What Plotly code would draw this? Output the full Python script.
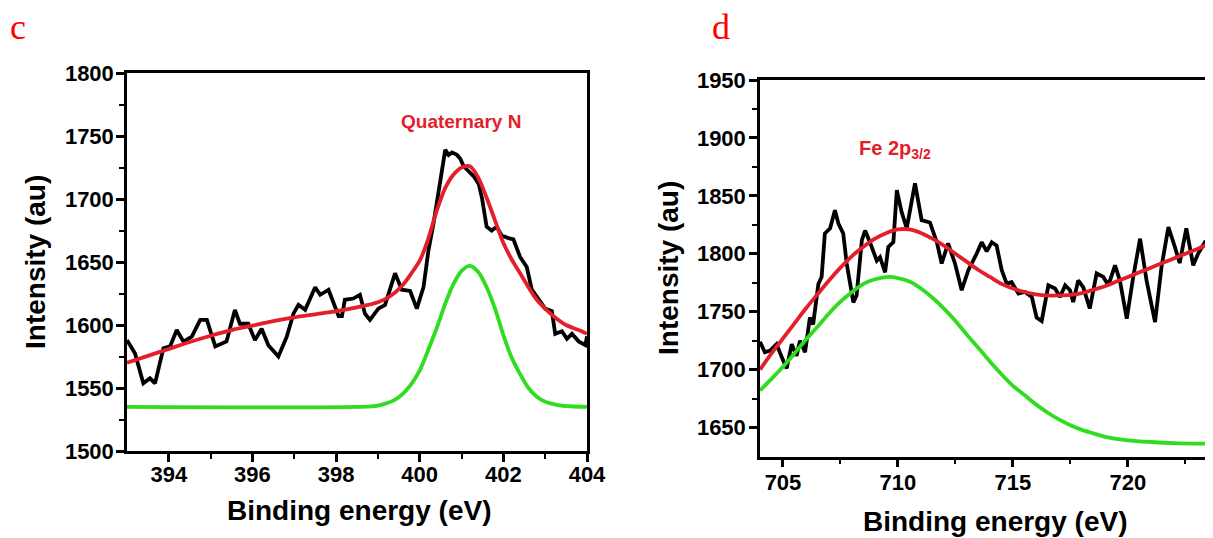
import plotly.graph_objects as go

# The page body keeps an 8 px margin, so the figure is sized to fill the rest of the window.
OFF = 8
W, H = 1213 - OFF, 538 - OFF

# ---------------- Panel c (N 1s) ----------------
c_raw_x = [393.0, 393.19, 393.39, 393.55, 393.67, 393.87, 394.03, 394.19, 394.35, 394.55,
           394.75, 394.91, 395.11, 395.38, 395.58, 395.70, 395.90, 396.06, 396.22, 396.38,
           396.62, 396.82, 396.98, 397.1, 397.26, 397.5, 397.62, 397.82, 398.06, 398.14,
           398.21, 398.41, 398.57, 398.69, 398.81, 399.01, 399.17, 399.29, 399.41, 399.57,
           399.77, 399.93, 400.09, 400.21, 400.33, 400.61, 400.69, 400.77, 400.89, 400.97,
           401.05, 401.17, 401.29, 401.41, 401.49, 401.6, 401.72, 401.84, 401.96, 402.12,
           402.24, 402.4, 402.56, 402.68, 402.84, 403.0, 403.16, 403.24, 403.4, 403.52,
           403.64, 403.8, 403.96, 404.0]
c_raw_y = [1588, 1577.5, 1553.7, 1557.7, 1553.7, 1581.5, 1583, 1596, 1586.8, 1590.7,
           1604, 1604, 1583, 1587, 1612, 1601, 1601, 1588, 1597, 1584,
           1575, 1590.7, 1609, 1616, 1612, 1630, 1624, 1628, 1607, 1607,
           1620, 1621, 1624, 1609, 1604, 1613, 1616, 1628, 1641, 1628,
           1627, 1613, 1630, 1659.5, 1680.7, 1739, 1735, 1737, 1735, 1732,
           1726, 1722, 1718, 1712, 1700.5, 1678, 1675, 1678, 1671, 1669,
           1668, 1654, 1646, 1628, 1620, 1613, 1611, 1593, 1595, 1589,
           1593, 1587, 1584, 1591]

c_fit_x = [393.0, 393.5, 394.0, 394.5, 395.0, 395.5, 396.0, 396.5, 397.0, 397.5, 398.0,
           398.5, 399.0, 399.3, 399.6, 399.8, 400.0, 400.2, 400.4, 400.6, 400.8, 401.0,
           401.2, 401.4, 401.6, 401.8, 402.0, 402.2, 402.4, 402.6, 402.8, 403.0, 403.2,
           403.5, 403.8, 404.0]
c_fit_y = [1570, 1575.5, 1581, 1586.5, 1591.5, 1596, 1599.5, 1603, 1606, 1608.5, 1611,
           1614, 1618, 1623, 1632, 1641, 1651, 1668, 1690, 1708, 1719, 1725,
           1726, 1717, 1701, 1683, 1665, 1652, 1641, 1630, 1620, 1613, 1607,
           1600, 1596, 1593]

c_peak_x = [393.0, 398.5, 399.0, 399.4, 399.7, 400.0, 400.2, 400.4, 400.6, 400.8, 401.0,
            401.2, 401.4, 401.6, 401.8, 402.0, 402.2, 402.4, 402.6, 402.8, 403.0, 403.3,
            403.6, 404.0]
c_peak_y = [1535, 1535, 1536, 1540.5, 1549, 1564, 1580, 1597, 1616, 1632, 1643,
            1647, 1642, 1630, 1613, 1592, 1574, 1561, 1550, 1543, 1539, 1536.5,
            1535.5, 1535]

# ---------------- Panel d (Fe 2p) ----------------
d_raw_x = [704.0, 704.21, 704.44, 704.72, 704.94, 705.16, 705.38, 705.59, 705.74, 705.96,
           706.17, 706.31, 706.54, 706.68, 706.82, 707.05, 707.26, 707.41, 707.62, 707.77,
           708.06, 708.20, 708.43, 708.57, 708.78, 709.08, 709.22, 709.44, 709.58, 709.80,
           709.95, 710.16, 710.38, 710.74, 711.03, 711.39, 711.69, 711.90, 712.18, 712.48,
           712.77, 713.06, 713.42, 713.64, 713.86, 714.08, 714.29, 714.51, 714.73, 714.94,
           715.24, 715.52, 715.82, 716.03, 716.25, 716.54, 716.83, 717.05, 717.27, 717.48,
           717.62, 717.84, 718.06, 718.34, 718.64, 718.93, 719.15, 719.44, 719.65, 719.95,
           720.23, 720.53, 720.81, 721.18, 721.46, 721.76, 722.04, 722.25, 722.54, 722.84,
           723.05, 723.35, 723.63]
d_raw_y = [1724, 1715, 1716.5, 1722, 1711, 1701, 1722, 1712, 1725, 1715,
           1745, 1739, 1774, 1780, 1817.5, 1822, 1837.6, 1826, 1817.5, 1791.6,
           1758, 1764, 1811.7, 1820, 1810, 1794, 1797, 1784, 1806, 1810,
           1855, 1836, 1822, 1860.7, 1829, 1827, 1810, 1791.6, 1809, 1791.6,
           1768.5, 1785.8, 1800, 1810, 1802, 1810, 1807, 1786, 1774, 1775.5,
           1765.6, 1767, 1762.7, 1745, 1742, 1772.8, 1770, 1762.7, 1772.8, 1768.5,
           1758.4, 1777, 1771, 1752.7, 1783, 1780, 1772.8, 1790, 1777, 1744,
           1780, 1813, 1777, 1741, 1788.6, 1823, 1806, 1792, 1822, 1790,
           1800, 1810, 1808]

d_fit_x = [704.0, 704.5, 705.0, 705.5, 706.0, 706.5, 707.0, 707.5, 708.0, 708.5, 709.0,
           709.5, 710.0, 710.5, 711.0, 711.5, 712.0, 712.5, 713.0, 713.5, 714.0, 714.5,
           715.0, 715.5, 716.0, 716.5, 717.0, 717.5, 718.0, 718.5, 719.0, 719.5, 720.0,
           720.5, 721.0, 721.5, 722.0, 722.5, 723.0, 723.7]
d_fit_y = [1700, 1714, 1727, 1740, 1753, 1765, 1777, 1788, 1798, 1806, 1813,
           1818, 1821, 1821, 1818, 1813, 1807, 1800, 1793, 1786, 1780, 1774,
           1770, 1767, 1765, 1764, 1764, 1764.5, 1766, 1769, 1772, 1776, 1780,
           1784, 1788, 1792, 1796, 1800, 1804, 1810]

d_peak_x = [704.0, 704.5, 705.0, 705.5, 706.0, 706.5, 707.0, 707.5, 708.0, 708.5, 709.0,
            709.6, 710.0, 710.5, 711.0, 711.5, 712.0, 712.5, 713.0, 713.5, 714.0, 714.5,
            715.0, 715.5, 716.0, 716.5, 717.0, 717.5, 718.0, 718.5, 719.0, 720.0, 721.0,
            722.0, 723.7]
d_peak_y = [1682, 1692, 1702.5, 1714, 1726, 1737, 1748.5, 1758.6, 1767, 1774, 1778,
            1780, 1779, 1776, 1770, 1762, 1752.7, 1742, 1730, 1718.7, 1707, 1696,
            1686, 1678, 1670, 1663, 1657, 1652, 1648, 1645, 1642, 1639, 1637.5,
            1636.5, 1636]

c_xticks = [394, 396, 398, 400, 402, 404]
c_yticks = [1500, 1550, 1600, 1650, 1700, 1750, 1800]
d_xticks = [705, 710, 715, 720]
d_yticks = [1650, 1700, 1750, 1800, 1850, 1900, 1950]

BLACK = "#000000"
RED = "#e3202a"
GREEN = "#2fdc1e"
LW = 3.8


def px(x):
    """screen pixel x -> paper fraction"""
    return (x - OFF) / W


def py(y):
    """screen pixel y -> paper fraction"""
    return 1 - (y - OFF) / H


fig = go.Figure()
fig.add_trace(go.Scatter(x=c_raw_x, y=c_raw_y, mode="lines", line=dict(color=BLACK, width=LW),
                         xaxis="x", yaxis="y", showlegend=False))
fig.add_trace(go.Scatter(x=c_peak_x, y=c_peak_y, mode="lines",
                         line=dict(color=GREEN, width=LW, shape="spline", smoothing=0.8),
                         xaxis="x", yaxis="y", showlegend=False))
fig.add_trace(go.Scatter(x=c_fit_x, y=c_fit_y, mode="lines",
                         line=dict(color=RED, width=LW, shape="spline", smoothing=0.8),
                         xaxis="x", yaxis="y", showlegend=False))

fig.add_trace(go.Scatter(x=d_raw_x, y=d_raw_y, mode="lines", line=dict(color=BLACK, width=LW),
                         xaxis="x2", yaxis="y2", showlegend=False))
fig.add_trace(go.Scatter(x=d_peak_x, y=d_peak_y, mode="lines",
                         line=dict(color=GREEN, width=LW, shape="spline", smoothing=0.8),
                         xaxis="x2", yaxis="y2", showlegend=False))
fig.add_trace(go.Scatter(x=d_fit_x, y=d_fit_y, mode="lines",
                         line=dict(color=RED, width=LW, shape="spline", smoothing=0.8),
                         xaxis="x2", yaxis="y2", showlegend=False))

TICKFONT = dict(family="Liberation Sans, Arial, sans-serif", size=22, color="black", weight="bold")


def axis_common(**kw):
    d = dict(showline=True, linecolor="black", linewidth=2.5, ticks="outside", ticklen=8,
             tickwidth=2.5, tickcolor="black", showgrid=False, zeroline=False,
             tickfont=TICKFONT, fixedrange=True, automargin=False)
    d.update(kw)
    return d


fig.update_layout(
    template="none",
    width=W, height=H, margin=dict(l=0, r=0, t=0, b=0, pad=0),
    paper_bgcolor="white", plot_bgcolor="white",
    xaxis=axis_common(domain=[px(127), px(587)], range=[393, 404], tickmode="array",
                      tickvals=c_xticks, ticktext=[str(v) for v in c_xticks], anchor="y",
                      mirror=True, ticklabelstandoff=-6,
                      minor=dict(ticks="outside", ticklen=5, tickwidth=2, tickcolor="black",
                                 tickvals=[395, 397, 399, 401, 403])),
    yaxis=axis_common(domain=[py(451), py(73)], range=[1500, 1800], tickmode="array",
                      tickvals=c_yticks, ticktext=[str(v) for v in c_yticks], anchor="x",
                      mirror=True, ticklabelstandoff=-2,
                      minor=dict(ticks="outside", ticklen=5, tickwidth=2, tickcolor="black",
                                 tickvals=[1525, 1575, 1625, 1675, 1725, 1775])),
    xaxis2=axis_common(domain=[px(760), 1.0], range=[704, 723.7], tickmode="array",
                       tickvals=d_xticks, ticktext=[str(v) for v in d_xticks], anchor="y2",
                       mirror=True, ticklabelstandoff=-4,
                       minor=dict(ticks="outside", ticklen=5, tickwidth=2, tickcolor="black",
                                  tickvals=[707.5, 712.5, 717.5, 722.5])),
    yaxis2=axis_common(domain=[py(456.5), py(80)], range=[1625, 1950], tickmode="array",
                       tickvals=d_yticks, ticktext=[str(v) for v in d_yticks], anchor="x2",
                       mirror=False, ticklabelstandoff=-1,
                       minor=dict(ticks="outside", ticklen=5, tickwidth=2, tickcolor="black",
                                  tickvals=[1675, 1725, 1775, 1825, 1875, 1925])),
)

TITLEFONT = dict(family="Liberation Sans, Arial, sans-serif", size=28, color="black", weight="bold")
LABELFONT = dict(family="Liberation Sans, Arial, sans-serif", size=19, color=RED, weight="bold")
LETTERFONT = dict(family="Liberation Serif, Times New Roman, serif", size=36, color="#ff0000")

annotations = [
    dict(text="Binding energy (eV)", x=px(359), y=py(510), font=TITLEFONT),
    dict(text="Intensity (au)", x=px(35), y=py(262), font=TITLEFONT, textangle=-90),
    dict(text="Binding energy (eV)", x=px(995), y=py(521), font=TITLEFONT),
    dict(text="Intensity (au)", x=px(668), y=py(268), font=TITLEFONT, textangle=-90),
    dict(text="Quaternary N", x=px(461), y=py(121), font=LABELFONT),
    dict(text="Fe 2p<sub>3/2</sub>", x=px(857), y=py(150), font=dict(LABELFONT, size=20),
         xanchor="left"),
    dict(text="c", x=px(18), y=py(27), font=LETTERFONT),
    dict(text="d", x=px(721), y=py(27), font=LETTERFONT),
]
for a in annotations:
    a.setdefault("xanchor", "center")
    a.setdefault("yanchor", "middle")
    a.update(xref="paper", yref="paper", showarrow=False)
fig.update_layout(annotations=annotations)

fig.write_html("out.html")
